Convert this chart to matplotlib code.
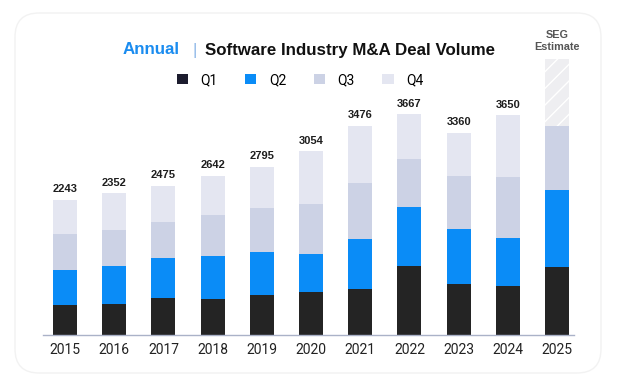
import numpy as np
import matplotlib.pyplot as plt
from matplotlib.patches import FancyBboxPatch, Patch

# Data (deal counts per quarter)
years = ['2015', '2016', '2017', '2018', '2019', '2020', '2021', '2022', '2023', '2024', '2025']
q1 = [500, 515, 620, 600, 665, 720, 765, 1150, 840, 810, 1130]
q2 = [580, 630, 660, 710, 705, 630, 835, 975, 915, 805, 1285]
q3 = [600, 590, 590, 680, 730, 820, 920, 800, 890, 1005, 1060]
q4 = [563, 617, 605, 652, 695, 884, 956, 742, 715, 1030, 1110]
totals = ['2243', '2352', '2475', '2642', '2795', '3054', '3476', '3667', '3360', '3650', '']
estimate_year = '2025'

colors = ['#242424', '#0a8cf7', '#ccd2e5', '#e4e6f1']
labels = ['Q1', 'Q2', 'Q3', 'Q4']

W, H = 621, 385
plt.rcParams['hatch.linewidth'] = 1.0
fig = plt.figure(figsize=(W / 100, H / 100), dpi=100)

# background card with rounded corners (pixel coordinates)
bg = fig.add_axes([0, 0, 1, 1], zorder=0)
bg.set_xlim(0, W)
bg.set_ylim(H, 0)
bg.axis('off')
bg.add_patch(FancyBboxPatch((15 + 24, 13 + 24), 586 - 48, 360 - 48,
                            boxstyle='round,pad=24', facecolor='white',
                            edgecolor='#f2f2f2', linewidth=1))

# main axes: baseline at 335 px, bars centred 65 -> 557 px
left_px, right_px, base_px, top_px = 43, 574, 335, 55
ax = fig.add_axes([left_px / W, (H - base_px) / H,
                   (right_px - left_px) / W, (base_px - top_px) / H], zorder=1)
ax.patch.set_alpha(0)

x = np.arange(len(years))
width = 0.49
bottom = np.zeros(len(years))
for vals, c, lab in zip([q1, q2, q3], colors[:3], labels[:3]):
    ax.bar(x, vals, width, bottom=bottom, color=c, label=lab)
    bottom += np.array(vals)

# Q4: actual for past years, hatched estimate for 2025
est = np.array([y == estimate_year for y in years])
q4 = np.array(q4)
ax.bar(x[~est], q4[~est], width, bottom=bottom[~est], color=colors[3], label='Q4')
ax.bar(x[est], q4[est], width, bottom=bottom[est], facecolor='#eeeef1',
       edgecolor='white', hatch='//', linewidth=0)
bottom += q4

for xi, top, t in zip(x, bottom, totals):
    if t:
        ax.text(xi, top + 90, t, ha='center', va='bottom', fontsize=8,
                fontweight='bold', family='Liberation Sans', color='#1e1e1e')
ei = x[est][0]
ax.text(ei, bottom[est][0] + 110, 'SEG\nEstimate', ha='center', va='bottom',
        fontsize=7.8, fontweight='bold', family='Liberation Sans',
        color='#555555', linespacing=1.3)

sc = 16.6  # deals per pixel
ax.set_ylim(0, (base_px - top_px) * sc)
ax.set_xlim((left_px - 65) / 49.2, (right_px - 65) / 49.2)
ax.set_xticks(x)
ax.set_xticklabels(years, fontsize=10, family='Roboto', color='#222222')
ax.tick_params(axis='x', length=0, pad=6)
ax.set_yticks([])
for s in ['left', 'right', 'top']:
    ax.spines[s].set_visible(False)
ax.spines['bottom'].set_color('#aab2c8')
ax.spines['bottom'].set_linewidth(1)

# title
ty = 1 - 50 / H
fig.text(123 / W, ty, 'Annual', fontsize=12.2, fontweight='bold',
         family='Liberation Sans', color='#1a8cf0', va='center', ha='left')
fig.text(192 / W, ty, '|', fontsize=12.2, family='Liberation Sans',
         color='#8fb8e8', va='center', ha='left')
fig.text(205 / W, ty, 'Software Industry M&A Deal Volume', fontsize=12.2,
         fontweight='bold', family='Liberation Sans', color='#111111',
         va='center', ha='left')

# legend
handles = [Patch(facecolor=c, label=l) for c, l in zip(['#1c1c2e'] + colors[1:], labels)]
fig.legend(handles=handles, loc='center', bbox_to_anchor=(300 / W, 1 - 80 / H),
           ncol=4, frameon=False, handlelength=0.8, handleheight=0.8,
           handletextpad=0.9, columnspacing=2.0, prop={'family': 'Roboto', 'size': 10})

plt.savefig('out.png', dpi=100)
